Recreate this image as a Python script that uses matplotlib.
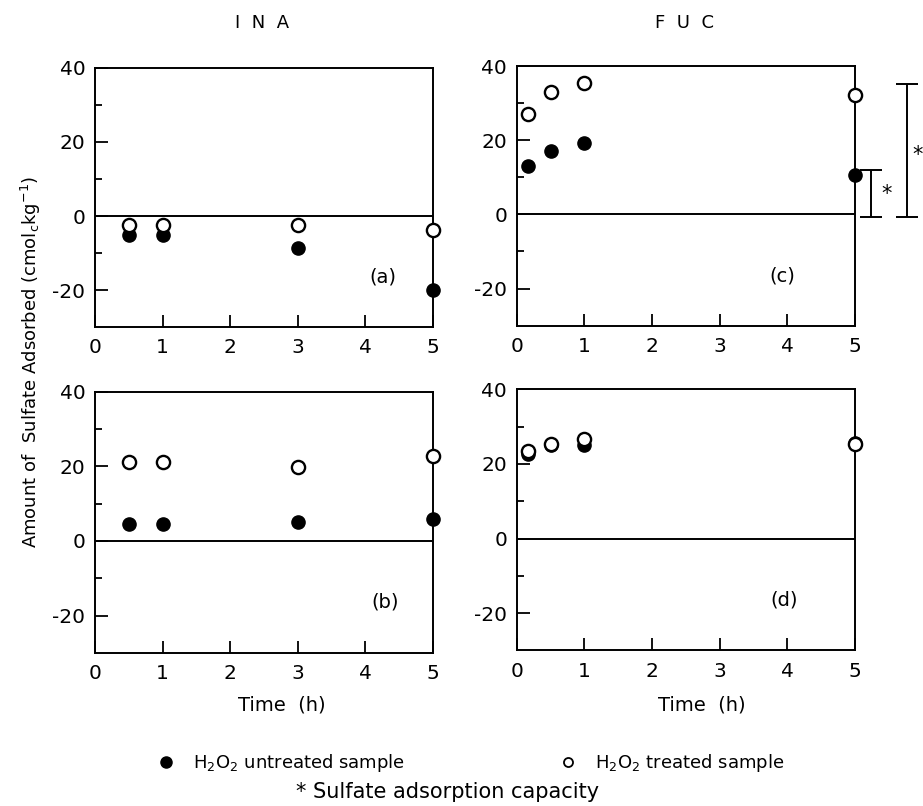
#!/usr/bin/env python3

import matplotlib
matplotlib.use('Agg')
from matplotlib import pyplot as plt

plt.rcParams['font.family'] = ['DejaVu Sans']
plt.rcParams['mathtext.default'] = 'regular'
plt.rcParams['axes.unicode_minus'] = False

# INA soil: sampling times and sulfate adsorbed (cmol_c/kg)
ina_time = [0.5, 1, 3, 5]
ina_a_untreated = [-5.0, -5.0, -8.5, -20.0]
ina_a_treated = [-2.5, -2.5, -2.5, -3.8]
ina_b_untreated = [4.6, 4.6, 5.1, 6.0]
ina_b_treated = [21.1, 21.1, 19.7, 22.9]

# FUC soil
fuc_time = [0.17, 0.5, 1, 5]
fuc_c_untreated = [13.1, 17.0, 19.3, 10.7]
fuc_c_treated = [27.0, 33.1, 35.5, 32.2]
fuc_d_untreated = [22.6, 25.0, 25.0, 25.5]
fuc_d_treated = [23.4, 25.3, 26.8, 25.4]

# sulfate adsorption capacity brackets in panel (c)
cap_x = [5.24, 5.77]
cap_low = [-0.6, -0.6]
cap_high = [12.1, 35.3]
star_x = [5.47, 5.93]
star_y = [5.6, 16.1]

panel_labels = ['(a)', '(b)', '(c)', '(d)']
label_x = [4.26, 4.29, 3.93, 3.96]
x_ticks = [0, 1, 2, 3, 4, 5]
y_ticks = [-20, 0, 20, 40]
y_minor = [-10, 10, 30]


def style_axes(ax, label, lx):
    ax.set_xlim(0, 5)
    ax.set_ylim(-30, 40)
    ax.set_xticks(x_ticks)
    ax.set_yticks(y_ticks)
    ax.set_yticks(y_minor, minor=True)
    ax.tick_params(axis='both', labelsize=14.5, width=1.3)
    ax.tick_params(axis='y', which='major', direction='in', length=9, pad=7)
    ax.tick_params(axis='y', which='minor', direction='in', length=5, width=1.3)
    ax.tick_params(axis='x', direction='in', length=9, pad=8)
    for s in ax.spines.values():
        s.set_linewidth(1.4)
    ax.axhline(0, color='black', lw=1.4)
    ax.text(lx, -16.5, label, fontsize=14, ha='center', va='center')


def plot_pair(ax, t, untreated, treated):
    l1, = ax.plot(t, untreated, 'o', color='black', ms=9.5, clip_on=False, zorder=3)
    l2, = ax.plot(t, treated, 'o', mfc='white', mec='black', mew=1.7, ms=9.5,
                  clip_on=False, zorder=4)
    return l1, l2


fig = plt.figure(figsize=(9.23, 8.06), dpi=100)
ax_a = fig.add_axes([0.103, 0.594, 0.366, 0.322])
ax_c = fig.add_axes([0.560, 0.596, 0.366, 0.322])
ax_b = fig.add_axes([0.103, 0.190, 0.366, 0.324])
ax_d = fig.add_axes([0.560, 0.193, 0.366, 0.324])

plot_pair(ax_a, ina_time, ina_a_untreated, ina_a_treated)
h1, h2 = plot_pair(ax_b, ina_time, ina_b_untreated, ina_b_treated)
plot_pair(ax_c, fuc_time, fuc_c_untreated, fuc_c_treated)
plot_pair(ax_d, fuc_time, fuc_d_untreated, fuc_d_treated)

for ax, lab, lx in zip([ax_a, ax_b, ax_c, ax_d], panel_labels, label_x):
    style_axes(ax, lab, lx)

# capacity brackets
for x, lo, hi in zip(cap_x, cap_low, cap_high):
    mid = (lo + hi) / 2
    eb = ax_c.errorbar([x], [mid], yerr=[[mid - lo], [hi - mid]], fmt='none',
                       ecolor='black', elinewidth=1.4, capsize=8, capthick=1.4)
    for art in eb.lines[1] + eb.lines[2]:
        art.set_clip_on(False)
for x, y in zip(star_x, star_y):
    ax_c.text(x, y, '*', fontsize=15, ha='center', va='center', clip_on=False)

fig.text(0.284, 0.972, 'I  N  A', fontsize=13, ha='center', va='center')
fig.text(0.742, 0.972, 'F  U  C', fontsize=13, ha='center', va='center')
fig.text(0.305, 0.125, 'Time  (h)', fontsize=14, ha='center', va='center')
fig.text(0.760, 0.125, 'Time  (h)', fontsize=14, ha='center', va='center')
fig.text(0.033, 0.551, 'Amount of  Sulfate Adsorbed (cmol$_c$kg$^{-1}$)',
         fontsize=13, rotation=90, ha='center', va='center')

leg = fig.legend([h1, h2], ['H$_2$O$_2$ untreated sample', 'H$_2$O$_2$ treated sample'],
                 loc='center', bbox_to_anchor=(0.51, 0.053), ncol=2, frameon=False,
                 fontsize=13, columnspacing=8.5, handletextpad=1.0, handlelength=1.0)
leg.legend_handles[0].set_markersize(8)
leg.legend_handles[1].set_markersize(6.5)
leg.legend_handles[1].set_markeredgewidth(1.3)
fig.text(0.485, 0.017, '* Sulfate adsorption capacity', fontsize=15,
         ha='center', va='center')

fig.savefig('out.png', dpi=100)
